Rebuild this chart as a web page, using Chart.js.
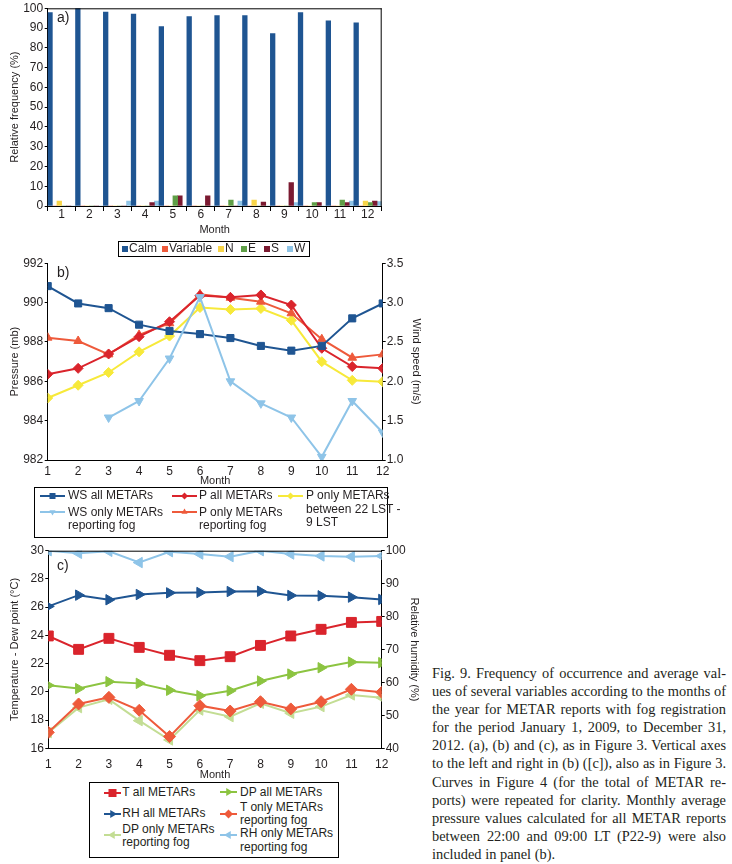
<!DOCTYPE html>
<html>
<head>
<meta charset="utf-8">
<script src="https://cdn.jsdelivr.net/npm/chart.js@4.4.1/dist/chart.umd.min.js"></script>
<style>
body { margin:0; background:#fff; width:732px; height:864px; position:relative; overflow:hidden;
       font-family:'Liberation Sans', Arial, sans-serif; color:#231f20; }
canvas { position:absolute; left:0; }
.box { position:absolute; border:1px solid #000; box-sizing:border-box; }
.lg { position:absolute; font-size:12px; line-height:13.4px; white-space:nowrap; }
.sw { position:absolute; width:6px; height:6px; }
.sym { position:absolute; }
.tag { position:absolute; font-size:14px; line-height:14px; }
#caption { position:absolute; left:432px; top:664px; width:294px;
           font-family:'Liberation Serif', 'Times New Roman', serif; font-size:14.4px; line-height:18.1px; color:#231f20; }
#caption div { text-align:justify; text-align-last:justify; }
#caption div.last { text-align-last:left; }
</style>
</head>
<body>
<canvas id="chartA" width="425" height="238" style="top:0"></canvas>
<canvas id="chartB" width="425" height="233" style="top:255px"></canvas>
<canvas id="chartC" width="425" height="242" style="top:540px"></canvas>

<div class="tag" style="left:57px;top:10px">a)</div>
<div class="tag" style="left:57px;top:265px">b)</div>
<div class="tag" style="left:57px;top:558px">c)</div>

<div id="legendA"></div>
<div id="legendB"></div>
<div id="legendC"></div>

<div id="caption">
<div>Fig. 9. Frequency of occurrence and average val-</div>
<div>ues of several variables according to the months of</div>
<div>the year for METAR reports with fog registration</div>
<div>for the period January 1, 2009, to December 31,</div>
<div>2012. (a), (b) and (c), as in Figure 3. Vertical axes</div>
<div>to the left and right in (b) ([c]), also as in Figure 3.</div>
<div>Curves in Figure 4 (for the total of METAR re-</div>
<div>ports) were repeated for clarity. Monthly average</div>
<div>pressure values calculated for all METAR reports</div>
<div>between 22:00 and 09:00 LT (P22-9) were also</div>
<div class="last">included in panel (b).</div>
</div>

<script>
// months on the x axis
const months = ['1', '2', '3', '4', '5', '6', '7', '8', '9', '10', '11', '12'];
const monthNums = [1, 2, 3, 4, 5, 6, 7, 8, 9, 10, 11, 12];

// panel a - wind direction frequency (%)
const calm     = [97.8, 100, 98.1, 97.1, 90.7, 95.8, 96.3, 96.3, 87.2, 97.8, 93.6, 92.7];
const variable = [0, 0, 0, 0, 0, 0, 0, 0, 0, 0, 0, 0];
const north    = [2.5, 0, 0, 0, 0, 0, 0, 3, 0, 0, 0, 2.5];
const east     = [0, 0, 0, 0, 5.2, 0, 3, 0, 0, 1.7, 3, 1.7];
const south    = [0, 0, 0, 1.7, 5.2, 5.2, 0, 2, 11.8, 1.7, 1.7, 2.5];
const west     = [0, 0, 2.5, 2.5, 0, 0, 2.5, 0, 1.7, 0, 2.5, 2.2];

// panel b - wind speed (m/s, right axis) and pressure (mb, left axis)
const wsAll   = [3.21, 2.99, 2.93, 2.72, 2.64, 2.60, 2.55, 2.45, 2.39, 2.45, 2.80, 2.99];
const wsFog   = [null, null, 1.54, 1.75, 2.29, 3.07, 2.0, 1.72, 1.54, 1.04, 1.75, 1.35];
const pAll    = [986.36, 986.66, 987.39, 988.27, 989.03, 990.36, 990.27, 990.39, 989.88, 987.68, 986.75, 986.66];
const pFog    = [988.22, 988.05, 987.37, 988.36, 988.95, 990.42, 990.25, 990.05, 989.46, 988.14, 987.2, 987.37];
const p22to9  = [985.15, 985.8, 986.45, 987.5, 988.3, 989.75, 989.65, 989.7, 989.1, 987.0, 986.05, 985.98];

// panel c - temperature / dew point (°C, left axis) and relative humidity (%, right axis)
const tAll    = [23.96, 23.01, 23.79, 23.15, 22.59, 22.21, 22.49, 23.29, 23.96, 24.43, 24.92, 24.99];
const dpAll   = [20.46, 20.23, 20.72, 20.6, 20.11, 19.73, 20.08, 20.77, 21.26, 21.71, 22.11, 22.07];
const rhAll   = [83.1, 86.5, 85.1, 86.7, 87.2, 87.3, 87.6, 87.7, 86.4, 86.3, 85.9, 85.2];
const tFog    = [17.13, 19.14, 19.61, 18.69, 16.83, 19.02, 18.64, 19.3, 18.79, 19.3, 20.18, 19.97];
const dpFog   = [17.11, 18.88, 19.47, 17.96, 16.59, 18.71, 18.24, 19.19, 18.48, 18.95, 19.78, 19.59];
const rhFog   = [100, 99.2, 99.8, 96.4, 99.7, 99.0, 98.2, 100, 99.0, 98.4, 98.2, 98.4];

// colours
const C_DARKBLUE = '#1f5592';
const C_LIGHTBLUE = '#8ec4e8';
const C_RED = '#da242c';
const C_ORANGE = '#ee5a3b';
const C_YELLOW = '#f7e93a';
const C_GREEN = '#8cc441';
const C_LIGHTGREEN = '#c3dd94';
const C_TEXT = '#231f20';

Chart.defaults.font.family = "'Liberation Sans', Arial, sans-serif";
Chart.defaults.font.size = 12;
Chart.defaults.color = C_TEXT;
Chart.defaults.animation = false;
Chart.defaults.responsive = false;
Chart.defaults.plugins.legend.display = false;
Chart.defaults.plugins.tooltip.enabled = false;

// pin axis sizes so the plot areas land where the reference has them
function fixWidth(w) {
    return function (scale) { scale.width = w; scale.paddingTop = 0; scale.paddingBottom = 0; };
}
function fixHeight(h) {
    return function (scale) { scale.height = h; scale.paddingLeft = 0; scale.paddingRight = 0; };
}

// draws the top / right edge of the plot frame
const framePlugin = {
    id: 'frame',
    afterDraw(chart, args, opts) {
        const a = chart.chartArea;
        const ctx = chart.ctx;
        ctx.save();
        ctx.strokeStyle = '#000';
        ctx.lineWidth = 1;
        ctx.beginPath();
        if (opts.top) { ctx.moveTo(a.left, a.top + 0.5); ctx.lineTo(a.right, a.top + 0.5); }
        if (opts.right) { ctx.moveTo(a.right - 0.5, a.top); ctx.lineTo(a.right - 0.5, a.bottom); }
        ctx.stroke();
        ctx.restore();
    }
};

const axisBorder = { display: true, color: '#000', width: 1 };

function yAxisLeft(min, max, step, title, width, titlePad) {
    return {
        position: 'left', min: min, max: max,
        ticks: { stepSize: step, padding: 1.5, font: { size: 12 } },
        grid: { drawOnChartArea: false, drawTicks: true, tickLength: 3, color: '#000' },
        border: axisBorder,
        title: { display: true, text: title, font: { size: 11 }, padding: { top: titlePad, bottom: 0 } },
        afterFit: fixWidth(width)
    };
}

function yAxisRight(min, max, step, title, width, titlePad, fmt) {
    return {
        position: 'right', min: min, max: max,
        ticks: { stepSize: step, padding: 1, font: { size: 12 }, callback: fmt },
        grid: { drawOnChartArea: false, drawTicks: true, tickLength: 3, color: '#000' },
        border: axisBorder,
        title: { display: true, text: title, font: { size: 11 }, padding: { top: titlePad, bottom: 0 } },
        afterFit: fixWidth(width)
    };
}

function monthAxis(height, labelPad, titlePad) {
    return {
        type: 'linear', min: 1, max: 12,
        ticks: { stepSize: 1, padding: labelPad, font: { size: 12 } },
        grid: { drawOnChartArea: false, drawTicks: false },
        border: axisBorder,
        title: { display: true, text: 'Month', font: { size: 11 }, padding: { top: 0, bottom: titlePad } },
        afterFit: fixHeight(height)
    };
}

function lineSet(label, data, color, style, radius, rotation, axis, order) {
    return {
        label: label,
        data: data.map((v, i) => ({ x: monthNums[i], y: v })),
        borderColor: color,
        backgroundColor: color,
        borderWidth: 2,
        pointStyle: style,
        pointRadius: radius,
        pointRotation: rotation,
        pointBorderWidth: 1,
        pointBackgroundColor: color,
        pointBorderColor: color,
        yAxisID: axis,
        order: order,
        spanGaps: false
    };
}

// ---------- panel a ----------
new Chart(document.getElementById('chartA'), {
    type: 'bar',
    data: {
        labels: months,
        datasets: [
            { label: 'Calm', data: calm, backgroundColor: C_DARKBLUE },
            { label: 'Variable', data: variable, backgroundColor: C_ORANGE },
            { label: 'N', data: north, backgroundColor: '#f8d548' },
            { label: 'E', data: east, backgroundColor: '#5f9f47' },
            { label: 'S', data: south, backgroundColor: '#7b1a31' },
            { label: 'W', data: west, backgroundColor: '#8fc4e6' }
        ]
    },
    options: {
        layout: { padding: { left: 0, top: 8.3, right: 43.3, bottom: 0 } },
        datasets: { bar: { barPercentage: 1, categoryPercentage: 1, borderWidth: 0 } },
        scales: {
            x: {
                ticks: { padding: -4, font: { size: 12 } },
                grid: { offset: true, drawOnChartArea: false, drawTicks: true, tickLength: 5, color: '#000' },
                border: axisBorder,
                title: { display: true, text: 'Month', font: { size: 11 }, padding: { top: 0, bottom: 1.4 } },
                afterFit: fixHeight(32)
            },
            y: yAxisLeft(0, 100, 10, 'Relative frequency (%)', 47.7, 8.4)
        },
        plugins: { frame: { top: true, right: true } }
    },
    plugins: [framePlugin]
});

// ---------- panel b ----------
new Chart(document.getElementById('chartB'), {
    type: 'line',
    data: {
        datasets: [
            lineSet('WS all METARs', wsAll, C_DARKBLUE, 'rect', 5, 0, 'y2', 1),
            lineSet('WS only METARs reporting fog', wsFog, C_LIGHTBLUE, 'triangle', 5, 180, 'y2', 0),
            lineSet('P all METARs', pAll, C_RED, 'rectRot', 5, 0, 'y', 2),
            lineSet('P only METARs reporting fog', pFog, C_ORANGE, 'triangle', 5, 0, 'y', 3),
            lineSet('P only METARs between 22 LST - 9 LST', p22to9, C_YELLOW, 'rectRot', 5, 0, 'y', 4)
        ]
    },
    options: {
        layout: { padding: { left: 0, top: 8.3, right: 0, bottom: 0 } },
        scales: {
            x: monthAxis(28, 4, 0.4),
            y: yAxisLeft(982, 992, 2, 'Pressure (mb)', 47.7, 8.4),
            y2: yAxisRight(1, 3.5, 0.5, 'Wind speed (m/s)', 42.3, 2.4, v => v.toFixed(1))
        }
    }
});

// ---------- panel c ----------
new Chart(document.getElementById('chartC'), {
    type: 'line',
    data: {
        datasets: [
            lineSet('T all METARs', tAll, C_RED, 'rect', 7, 0, 'y', 0),
            lineSet('DP all METARs', dpAll, C_GREEN, 'triangle', 6, 90, 'y', 4),
            lineSet('RH all METARs', rhAll, C_DARKBLUE, 'triangle', 6, 90, 'y2', 1),
            lineSet('T only METARs reporting fog', tFog, C_ORANGE, 'rectRot', 6, 0, 'y', 3),
            lineSet('DP only METARs reporting fog', dpFog, C_LIGHTGREEN, 'triangle', 6, 270, 'y', 5),
            lineSet('RH only METARs reporting fog', rhFog, C_LIGHTBLUE, 'triangle', 6, 270, 'y2', 2)
        ]
    },
    options: {
        layout: { padding: { left: 0, top: 10.7, right: 0, bottom: 0 } },
        scales: {
            x: monthAxis(33.7, 9, 0.4),
            y: yAxisLeft(16, 30, 2, 'Temperature - Dew point (°C)', 48.3, 8.4),
            y2: yAxisRight(40, 100, 10, 'Relative humidity (%)', 43.3, 4.4)
        },
        plugins: { frame: { top: true, right: false } }
    },
    plugins: [framePlugin]
});

// ---------- HTML legends ----------
function symbol(color, shape, w, r, rot) {
    const cy = 7, cx = w / 2;
    let mark = '';
    if (shape === 'rect') {
        mark = `<rect x="${cx - r}" y="${cy - r}" width="${2 * r}" height="${2 * r}" fill="${color}"/>`;
    } else if (shape === 'diamond') {
        mark = `<polygon points="${cx},${cy - r} ${cx + r},${cy} ${cx},${cy + r} ${cx - r},${cy}" fill="${color}"/>`;
    } else {
        mark = `<polygon points="${cx},${cy - r} ${cx + r * 0.87},${cy + r / 2} ${cx - r * 0.87},${cy + r / 2}" fill="${color}" transform="rotate(${rot} ${cx} ${cy})"/>`;
    }
    return `<svg width="${w}" height="14"><line x1="0" y1="${cy}" x2="${w}" y2="${cy}" stroke="${color}" stroke-width="2"/>${mark}</svg>`;
}

function addLegend(el, items) {
    let html = '';
    items.forEach(it => {
        if (it.box) {
            html += `<div class="box" style="left:${it.box[0]}px;top:${it.box[1]}px;width:${it.box[2]}px;height:${it.box[3]}px"></div>`;
        } else if (it.swatch) {
            html += `<div class="sw" style="left:${it.x}px;top:${it.y - 3}px;background:${it.swatch}"></div>`;
            html += `<div class="lg" style="left:${it.tx}px;top:${it.y - 6.7}px">${it.text}</div>`;
        } else {
            html += `<div class="sym" style="left:${it.x}px;top:${it.sy - 7}px">${symbol(it.color, it.shape, it.w, it.r, it.rot)}</div>`;
            html += `<div class="lg" style="left:${it.tx}px;top:${it.ty - 6.7}px">${it.text}</div>`;
        }
    });
    el.innerHTML = html;
}

addLegend(document.getElementById('legendA'), [
    { box: [118, 241, 192, 16] },
    { swatch: C_DARKBLUE, x: 121.7, tx: 129, y: 249, text: 'Calm' },
    { swatch: C_ORANGE, x: 162, tx: 169, y: 249, text: 'Variable' },
    { swatch: '#f8d548', x: 218, tx: 225, y: 249, text: 'N' },
    { swatch: '#5f9f47', x: 241, tx: 248, y: 249, text: 'E' },
    { swatch: '#7b1a31', x: 264, tx: 271, y: 249, text: 'S' },
    { swatch: '#8fc4e6', x: 287, tx: 294, y: 249, text: 'W' }
]);

addLegend(document.getElementById('legendB'), [
    { box: [34, 487, 354, 51] },
    { color: C_DARKBLUE, shape: 'rect', w: 25, r: 3, rot: 0, x: 40, sy: 496, tx: 68, ty: 496, text: 'WS all METARs' },
    { color: C_LIGHTBLUE, shape: 'tri', w: 25, r: 3.5, rot: 180, x: 40, sy: 512.3, tx: 68, ty: 512.3, text: 'WS only METARs<br>reporting fog' },
    { color: C_RED, shape: 'diamond', w: 25, r: 3.5, rot: 0, x: 172, sy: 496, tx: 199, ty: 496, text: 'P all METARs' },
    { color: C_ORANGE, shape: 'tri', w: 25, r: 3.5, rot: 0, x: 172, sy: 512.3, tx: 199, ty: 512.3, text: 'P only METARs<br>reporting fog' },
    { color: C_YELLOW, shape: 'diamond', w: 25, r: 3.5, rot: 0, x: 278, sy: 496, tx: 306, ty: 496, text: 'P only METARs<br>between 22 LST -<br>9 LST' }
]);

addLegend(document.getElementById('legendC'), [
    { box: [89, 782, 250, 76] },
    { color: C_RED, shape: 'rect', w: 17, r: 4, rot: 0, x: 103.5, sy: 793, tx: 122.3, ty: 793, text: 'T all METARs' },
    { color: C_GREEN, shape: 'tri', w: 17, r: 4.5, rot: 90, x: 220, sy: 792.3, tx: 240, ty: 792.3, text: 'DP all METARs' },
    { color: C_DARKBLUE, shape: 'tri', w: 17, r: 4.5, rot: 90, x: 103.5, sy: 814, tx: 122.3, ty: 814, text: 'RH all METARs' },
    { color: C_ORANGE, shape: 'diamond', w: 17, r: 4.5, rot: 0, x: 220, sy: 814, tx: 240, ty: 807.3, text: 'T only METARs<br>reporting fog' },
    { color: C_LIGHTGREEN, shape: 'tri', w: 17, r: 4.5, rot: 270, x: 103.5, sy: 835.3, tx: 122.3, ty: 829.7, text: 'DP only METARs<br>reporting fog' },
    { color: C_LIGHTBLUE, shape: 'tri', w: 17, r: 4.5, rot: 270, x: 220, sy: 835.3, tx: 240, ty: 834, text: 'RH only METARs<br>reporting fog' }
]);
</script>
</body>
</html>
